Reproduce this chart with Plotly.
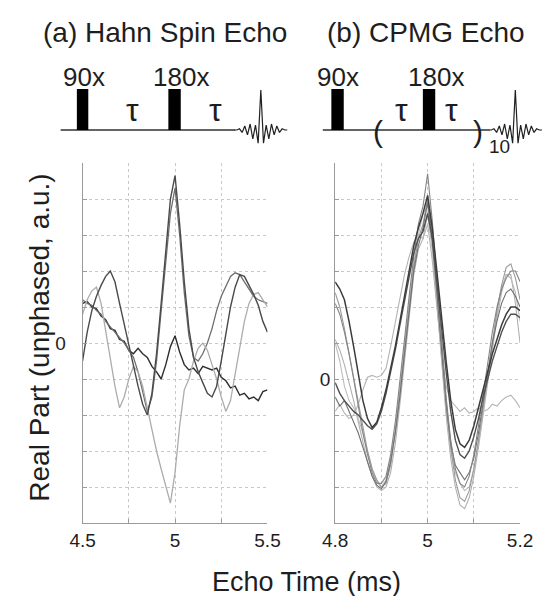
import plotly.graph_objects as go

# ---------------- data ----------------
X_LEFT = [4.500, 4.525, 4.550, 4.575, 4.600, 4.625, 4.650, 4.675, 4.700, 4.725,
          4.750, 4.775, 4.800, 4.825, 4.850, 4.875, 4.900, 4.925, 4.950, 4.975,
          5.000, 5.025, 5.050, 5.075, 5.100, 5.125, 5.150, 5.175, 5.200, 5.225,
          5.250, 5.275, 5.300, 5.325, 5.350, 5.375, 5.400, 5.425, 5.450, 5.475, 5.500]

HAHN_A = [-0.5, 0.3, 0.9, 1.3, 1.6, 1.85, 2.0, 1.7, 1.1, 0.5,
          -0.1, -0.7, -1.2, -1.7, -2.0, -1.4, -0.3, 1.1, 2.6, 4.0,
          4.65, 3.3, 1.7, 0.4, -0.4, -0.8, -1.1, -1.4, -1.5, -1.2,
          -0.5, 0.3, 1.0, 1.55, 1.9, 1.85, 1.6, 1.35, 1.05, 0.6, 0.3]
HAHN_B = [0.8, 1.2, 1.45, 1.55, 1.1, 0.3, -0.5, -1.2, -1.8, -1.5,
          -1.0, -0.65, -0.8, -1.2, -1.8, -2.4, -3.0, -3.5, -4.0, -4.45,
          -3.6, -2.3, -1.3, -1.0, -0.5, -0.15, 0.0, -0.2, -0.6, -1.0,
          -1.5, -1.9, -1.6, -0.9, -0.1, 0.6, 1.1, 1.35, 1.4, 1.2, 1.0]
HAHN_C = [1.1, 1.15, 1.0, 0.95, 0.75, 0.65, 0.4, 0.35, 0.1, 0.05,
          -0.2, -0.3, -0.15, -0.3, -0.4, -0.65, -0.8, -1.0, -0.6, -0.1,
          0.2, -0.25, -0.6, -0.75, -0.7, -0.85, -0.65, -0.7, -0.75, -0.7,
          -0.95, -1.05, -1.25, -1.2, -1.45, -1.4, -1.55, -1.5, -1.6, -1.35, -1.3]
HAHN_D = [1.2, 1.1, 1.05, 0.9, 0.8, 0.6, 0.45, 0.3, 0.15, 0.0,
          -0.2, -0.4, -0.8, -1.4, -1.9, -1.5, -0.5, 0.9, 2.3, 3.6,
          4.3, 3.0, 1.4, 0.2, -0.4, -0.5, -0.3, 0.0, 0.4, 0.9,
          1.3, 1.6, 1.85, 1.95, 1.9, 1.7, 1.5, 1.3, 1.2, 1.15, 1.1]

X_RIGHT = [4.80, 4.81, 4.82, 4.83, 4.84, 4.85, 4.86, 4.87, 4.88, 4.89,
           4.90, 4.91, 4.92, 4.93, 4.94, 4.95, 4.96, 4.97, 4.98, 4.99,
           5.00, 5.01, 5.02, 5.03, 5.04, 5.05, 5.06, 5.07, 5.08, 5.09,
           5.10, 5.11, 5.12, 5.13, 5.14, 5.15, 5.16, 5.17, 5.18, 5.19, 5.20]

CPMG_1 = [2.4, 2.0, 1.4, 0.7, 0.0, -0.7, -1.4, -2.0, -2.5, -2.8,
          -3.0, -2.9, -2.4, -1.5, -0.4, 0.8, 2.0, 3.1, 3.9, 4.3,
          5.0, 4.0, 2.5, 0.9, -0.6, -1.9, -2.8, -3.3, -3.4, -3.1,
          -2.5, -1.7, -0.8, 0.2, 1.1, 1.9, 2.6, 3.1, 3.2, 2.8, 2.2]
CPMG_2 = [1.1, 0.8, 0.4, -0.1, -0.6, -1.2, -1.8, -2.3, -2.7, -3.0,
          -3.1, -3.0, -2.6, -1.8, -0.7, 0.5, 1.7, 2.9, 3.6, 3.9,
          4.6, 3.6, 2.1, 0.5, -1.0, -2.2, -3.0, -3.5, -3.6, -3.3,
          -2.7, -1.9, -1.0, 0.0, 0.9, 1.7, 2.4, 2.9, 2.9, 2.1, 1.0]
CPMG_3 = [2.1, 1.8, 1.3, 0.7, 0.0, -0.8, -1.5, -2.1, -2.6, -2.9,
          -2.9, -2.7, -2.1, -1.2, -0.1, 1.1, 2.3, 3.4, 4.3, 4.8,
          5.7, 4.4, 2.8, 1.1, -0.5, -1.7, -2.5, -2.9, -3.0, -2.7,
          -2.1, -1.3, -0.4, 0.5, 1.3, 2.0, 2.5, 2.8, 3.0, 3.0, 2.7]
CPMG_4 = [2.7, 2.5, 2.2, 1.6, 0.9, 0.1, -0.6, -1.1, -1.35, -1.2,
          -0.8, -0.3, 0.3, 0.9, 1.6, 2.3, 3.0, 3.7, 4.2, 4.6,
          5.1, 4.2, 3.0, 1.7, 0.5, -0.6, -1.4, -1.8, -1.9, -1.7,
          -1.3, -0.8, -0.3, 0.2, 0.7, 1.1, 1.5, 1.8, 2.0, 2.0, 1.9]
CPMG_5 = [-0.1, -0.4, -0.6, -0.75, -0.9, -1.0, -1.15, -1.3, -1.4, -1.25,
          -0.9, -0.4, 0.2, 0.8, 1.5, 2.2, 2.9, 3.5, 3.9, 4.1,
          4.6, 3.9, 2.7, 1.4, 0.2, -0.9, -1.7, -2.1, -2.2, -2.0,
          -1.6, -1.1, -0.5, 0.0, 0.5, 0.9, 1.3, 1.6, 1.8, 1.8, 1.7]
CPMG_6 = [-0.9, -0.7, -0.95, -1.1, -1.0, -0.7, -0.3, 0.05, 0.1, 0.05,
          0.1, 0.3, 0.9, 1.6, 2.3, 2.9, 3.4, 3.8, 4.0, 3.9,
          4.3, 3.3, 2.0, 0.8, -0.2, -0.6, -0.75, -0.9, -0.8, -0.95,
          -0.9, -0.8, -0.9, -0.85, -0.7, -0.75, -0.6, -0.5, -0.45, -0.6, -0.8]
CPMG_7 = [1.0, 0.5, -0.2, -0.6, -0.8, -1.1, -1.5, -2.0, -2.5, -2.85,
          -3.0, -2.8, -2.2, -1.4, -0.3, 0.9, 2.1, 3.2, 4.0, 4.6,
          4.8, 3.8, 2.2, 0.6, -0.9, -2.0, -2.6, -2.9, -3.1, -3.0,
          -2.5, -1.8, -0.9, 0.1, 1.0, 1.8, 2.5, 2.9, 2.8, 2.4, 1.6]
CPMG_8 = [-0.5, -0.75, -0.6, -0.9, -1.2, -1.5, -1.9, -2.3, -2.7, -2.95,
          -3.05, -2.85, -2.3, -1.5, -0.5, 0.7, 1.9, 3.0, 3.7, 4.2,
          4.9, 3.9, 2.4, 0.8, -0.7, -1.8, -2.4, -2.6, -2.8, -2.6,
          -2.2, -1.5, -0.7, 0.2, 1.0, 1.6, 2.1, 2.4, 2.5, 2.3, 2.0]

# small echo icon drawn in the pulse-sequence diagrams
ICON_T = [-10, -9, -8, -7, -6, -5, -4, -3, -2, -1, 0, 1, 2, 3, 4, 5, 6, 7, 8, 9, 10]
ICON_ECHO = [0.0, 0.0, 0.03, -0.06, 0.1, -0.12, 0.15, -0.22, 0.12, -0.33, 1.0,
             -0.33, 0.12, -0.22, 0.15, -0.12, 0.1, -0.06, 0.03, 0.0, 0.0]

LEFT_TICKS = [4.5, 4.75, 5.0, 5.25, 5.5]
LEFT_TICKTEXT = ["4.5", "", "5", "", "5.5"]
RIGHT_TICKS = [4.8, 4.9, 5.0, 5.1, 5.2]
RIGHT_TICKTEXT = ["4.8", "", "5", "", "5.2"]
LEFT_Y = [-5, -4, -3, -2, -1, 0, 1, 2, 3, 4, 5]
RIGHT_Y = [-4, -3, -2, -1, 0, 1, 2, 3, 4, 5, 6]

# ---------------- layout helpers ----------------
W, H = 555, 596
FONT = "Liberation Sans, Arial, Helvetica, sans-serif"
TXT = "#1e1e1e"


def px(x):
    return x / W


def py(y):
    return 1 - y / H


fig = go.Figure()

left_series = [(HAHN_C, "#2e2e2e", 1.4), (HAHN_D, "#6e6e6e", 1.3),
               (HAHN_B, "#acacac", 1.3), (HAHN_A, "#4a4a4a", 1.4)]
for ys, col, w in left_series:
    fig.add_trace(go.Scatter(x=X_LEFT, y=ys, mode="lines", xaxis="x", yaxis="y",
                             line=dict(color=col, width=w), showlegend=False))

right_series = [(CPMG_6, "#b4b4b4", 1.1), (CPMG_2, "#b0b0b0", 1.1), (CPMG_7, "#bcbcbc", 1.1),
                (CPMG_1, "#9a9a9a", 1.1), (CPMG_8, "#707070", 1.1), (CPMG_3, "#858585", 1.1),
                (CPMG_5, "#505050", 1.4), (CPMG_4, "#3c3c3c", 1.5)]
for ys, col, w in right_series:
    fig.add_trace(go.Scatter(x=X_RIGHT, y=ys, mode="lines", xaxis="x2", yaxis="y2",
                             line=dict(color=col, width=w), showlegend=False))

for xa, ya in (("x3", "y3"), ("x4", "y4")):
    fig.add_trace(go.Scatter(x=ICON_T, y=ICON_ECHO, mode="lines", xaxis=xa, yaxis=ya,
                             line=dict(color="#202020", width=1.2), showlegend=False))

axis_common = dict(showline=True, linecolor="#9a9a9a", linewidth=1, mirror=False,
                   showgrid=True, gridcolor="#c8c8c8", griddash="dot", gridwidth=1,
                   ticks="inside", ticklen=4, tickcolor="#9a9a9a", zeroline=False,
                   tickfont=dict(family=FONT, size=19, color=TXT), fixedrange=True)

fig.update_layout(
    width=W, height=H, margin=dict(l=0, r=0, t=0, b=0),
    paper_bgcolor="white", plot_bgcolor="white", showlegend=False,
    xaxis=dict(domain=[px(73), px(267)], range=[4.5, 5.5], tickvals=LEFT_TICKS,
               ticktext=LEFT_TICKTEXT, anchor="y", **axis_common),
    yaxis=dict(domain=[py(523), py(163)], range=[-5, 5], tickvals=LEFT_Y,
               ticktext=["0" if v == 0 else "" for v in LEFT_Y], anchor="x",
               ticklabelstandoff=12, **axis_common),
    xaxis2=dict(domain=[px(338), px(532)], range=[4.8, 5.2], tickvals=RIGHT_TICKS,
                ticktext=RIGHT_TICKTEXT, anchor="y2", **axis_common),
    yaxis2=dict(domain=[py(523), py(163)], range=[-4, 6], tickvals=RIGHT_Y,
                ticktext=["0" if v == 0 else "" for v in RIGHT_Y], anchor="x2",
                ticklabelstandoff=0, **axis_common),
    xaxis3=dict(domain=[px(232), px(288)], range=[-10, 10], visible=False, anchor="y3",
                fixedrange=True),
    yaxis3=dict(domain=[py(150), py(85)], range=[-0.5, 1.125], visible=False, anchor="x3",
                fixedrange=True),
    xaxis4=dict(domain=[px(499), 1.0], range=[-10, 10], visible=False, anchor="y4",
                fixedrange=True),
    yaxis4=dict(domain=[py(150), py(85)], range=[-0.5, 1.125], visible=False, anchor="x4",
                fixedrange=True),
)

# ---------------- pulse-sequence diagrams ----------------
shapes = []
# baselines
shapes.append(dict(type="line", xref="paper", yref="paper", x0=px(50), x1=px(233),
                   y0=py(130), y1=py(130), line=dict(color="#303030", width=1.5)))
shapes.append(dict(type="line", xref="paper", yref="paper", x0=px(325), x1=px(500),
                   y0=py(130), y1=py(130), line=dict(color="#303030", width=1.5)))
# pulses
for x0, x1 in ((67, 79), (163, 176), (334, 347), (430, 443)):
    shapes.append(dict(type="rect", xref="paper", yref="paper", x0=px(x0), x1=px(x1),
                       y0=py(130), y1=py(89), fillcolor="black", line=dict(width=0)))
fig.update_layout(shapes=shapes)


def ann(text, x, y, size, **kw):
    fig.add_annotation(text=text, x=px(x), y=py(y), xref="paper", yref="paper",
                       showarrow=False, xanchor="center", yanchor="middle",
                       font=dict(family=FONT, size=size, color=TXT), **kw)


ann("(a) Hahn Spin Echo", 159, 33, 28)
ann("(b) CPMG Echo", 433, 33, 28)
ann("90x", 75, 77, 26)
ann("180x", 176, 77, 26)
ann("90x", 341, 77, 26)
ann("180x", 444, 77, 26)
ann("τ", 125, 110, 32)
ann("τ", 212, 110, 32)
ann("τ", 408, 110, 32)
ann("τ", 460, 110, 32)
ann("(", 383, 131, 30)
ann(")", 488, 131, 30)
ann("10", 510, 146, 19)
ann("Echo Time (ms)", 308, 582, 27)
ann("Real Part (unphased, a.u.)", 27, 338, 28, textangle=-90)

fig.write_html("out.html", config={"displayModeBar": False},
               post_script="document.body.style.margin='0';document.body.style.overflow='hidden';")
